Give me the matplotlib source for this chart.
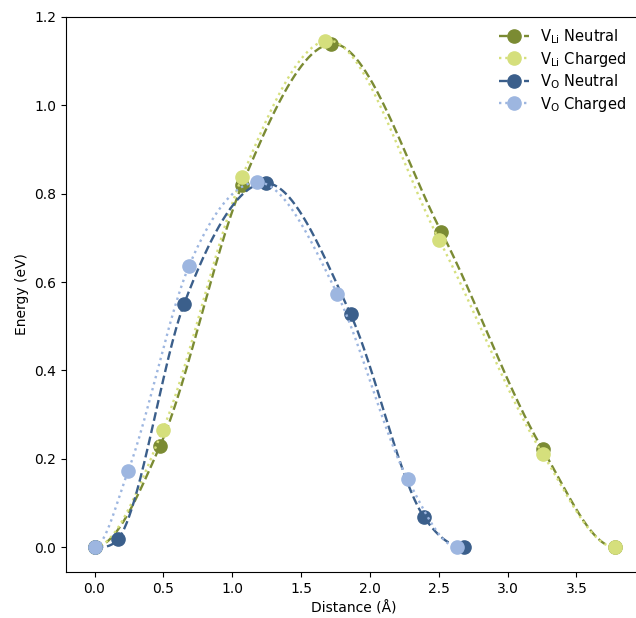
import numpy as np
import matplotlib
matplotlib.use('Agg')
import matplotlib.pyplot as plt
from matplotlib.lines import Line2D

# NEB images
vli_neutral_x = [0.0, 0.476, 1.072, 1.715, 2.52, 3.255, 3.78]
vli_neutral_y = [0.0, 0.229, 0.820, 1.139, 0.713, 0.221, 0.0]
vli_charged_x = [0.0, 0.497, 1.072, 1.674, 2.504, 3.255, 3.78]
vli_charged_y = [0.0, 0.266, 0.838, 1.146, 0.695, 0.211, 0.0]
vo_neutral_x = [0.0, 0.171, 0.650, 1.245, 1.86, 2.395, 2.683]
vo_neutral_y = [0.0, 0.018, 0.550, 0.824, 0.527, 0.067, 0.0]
vo_charged_x = [0.0, 0.244, 0.686, 1.180, 1.763, 2.275, 2.635]
vo_charged_y = [0.0, 0.172, 0.636, 0.826, 0.573, 0.153, 0.0]

labels = [r'V$_{\mathrm{Li}}$ Neutral', r'V$_{\mathrm{Li}}$ Charged',
          r'V$_{\mathrm{O}}$ Neutral', r'V$_{\mathrm{O}}$ Charged']
colors = ['#7b8b33', '#d5df7c', '#3b5f8b', '#9db6e0']
styles = ['--', ':', '--', ':']


def smooth(x, y, n=300):
    """cubic hermite through the images, flat at the end points"""
    x = np.asarray(x, float)
    y = np.asarray(y, float)
    h = np.diff(x)
    s = np.diff(y) / h
    d = np.zeros_like(y)
    d[1:-1] = (s[:-1] * h[1:] + s[1:] * h[:-1]) / (h[:-1] + h[1:])
    xs = np.linspace(x[0], x[-1], n)
    i = np.clip(np.searchsorted(x, xs) - 1, 0, len(h) - 1)
    t = (xs - x[i]) / h[i]
    h00 = 2 * t**3 - 3 * t**2 + 1
    h10 = t**3 - 2 * t**2 + t
    h01 = -2 * t**3 + 3 * t**2
    h11 = t**3 - t**2
    ys = h00 * y[i] + h10 * h[i] * d[i] + h01 * y[i + 1] + h11 * h[i] * d[i + 1]
    return xs, ys


series = [(vli_neutral_x, vli_neutral_y), (vli_charged_x, vli_charged_y),
          (vo_neutral_x, vo_neutral_y), (vo_charged_x, vo_charged_y)]

fig = plt.figure(figsize=(6.36, 6.18), dpi=100)
ax = fig.add_axes([0.1038, 0.0744, 0.904, 0.8981])

handles = []
for (x, y), c, ls, lab in zip(series, colors, styles, labels):
    xs, ys = smooth(x, y)
    ax.plot(x, y, 'o', color=c, ms=9.5)
    ax.plot(xs, ys, ls, color=c, lw=1.7)
    handles.append(Line2D([], [], color=c, ls=ls, lw=1.7, marker='o', ms=9.5))

ax.set_xlim(-0.207, 3.969)
ax.set_ylim(-0.0566, 1.2)
ax.set_xlabel('Distance (Å)')
ax.set_ylabel('Energy (eV)')
ax.legend(handles, labels, loc='upper right', frameon=False,
          labelspacing=0.25, borderaxespad=0.3, fontsize=10.5,
          bbox_to_anchor=(0.993, 1.0))

plt.savefig('out.png', dpi=100)
